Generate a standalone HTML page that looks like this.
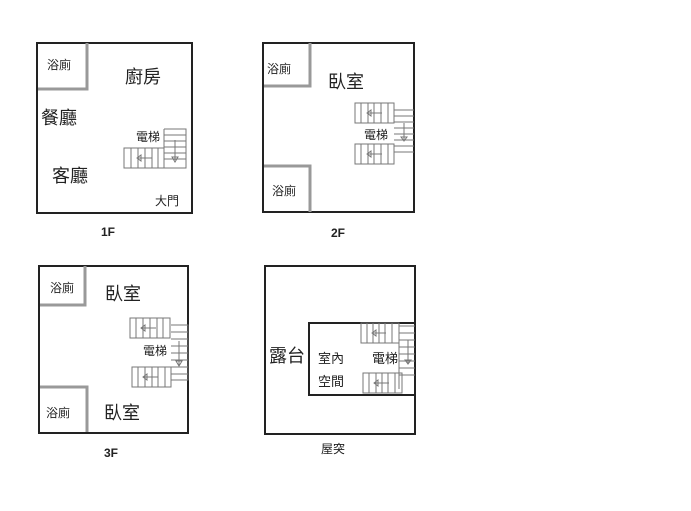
<!DOCTYPE html>
<html><head><meta charset="utf-8"><style>
body{margin:0;background:#fff}
svg{display:block}
text{font-family:"Liberation Sans","Noto Sans CJK TC",sans-serif;fill:#222}
.w{fill:none;stroke:#222;stroke-width:2}
.b{fill:none;stroke:#999;stroke-width:3}
.s{fill:none;stroke:#777;stroke-width:1}
</style></head><body>
<svg width="691" height="511" viewBox="0 0 691 511">
<!-- 1F -->
<rect class="w" x="37" y="43" width="155" height="170"/>
<path class="b" d="M38 89H87V43"/>
<text x="47" y="69" font-size="12">浴廁</text>
<text x="125" y="83" font-size="18">廚房</text>
<text x="41" y="124" font-size="18">餐廳</text>
<text x="136" y="141" font-size="12">電梯</text>
<text x="52" y="182" font-size="18">客廳</text>
<text x="155" y="205" font-size="12">大門</text>
<text x="101" y="236" font-size="12" font-weight="bold">1F</text>
<path class="s" d="M164 129H186V168H164V129M164 135H186M164 141H186M164 147H186M164 153H186M164 159H186M175 140V160M172 157L175 162L178 157Z"/>
<path class="s" d="M124 148H164V168H124ZM131 148V168M138 148V168M145 148V168M152 148V168M158 148V168M137 158H152M137 158L141 155V161Z"/>

<!-- 2F -->
<rect class="w" x="263" y="43" width="151" height="169"/>
<path class="b" d="M264 86H310V43"/>
<path class="b" d="M264 166H310V212"/>
<text x="267" y="73" font-size="12">浴廁</text>
<text x="272" y="195" font-size="12">浴廁</text>
<text x="328" y="88" font-size="18">臥室</text>
<text x="364" y="139" font-size="12">電梯</text>
<text x="331" y="237" font-size="12" font-weight="bold">2F</text>
<path class="s" d="M355 103H394V123H355ZM361 103V123M368 103V123M374 103V123M381 103V123M388 103V123M367 113H382M367 113L371 110V116Z"/>
<path class="s" d="M355 144H394V164H355ZM361 144V164M368 144V164M374 144V164M381 144V164M388 144V164M367 154H382M367 154L371 151V157Z"/>
<path class="s" d="M394 110H414M394 116H414M394 122H414M394 128H414M394 134H414M394 140H414M394 146H414M394 152H414M404 123V140M401 137L404 141L407 137Z"/>

<!-- 3F -->
<rect class="w" x="39" y="266" width="149" height="167"/>
<path class="b" d="M40 305H85V266"/>
<path class="b" d="M40 387H87V432"/>
<text x="50" y="292" font-size="12">浴廁</text>
<text x="46" y="417" font-size="12">浴廁</text>
<text x="105" y="300" font-size="18">臥室</text>
<text x="104" y="419" font-size="18">臥室</text>
<text x="143" y="355" font-size="12">電梯</text>
<text x="104" y="457" font-size="12" font-weight="bold">3F</text>
<path class="s" d="M130 318H170V338H130ZM136 318V338M143 318V338M150 318V338M157 318V338M163 318V338M141 328H156M141 328L145 325V331Z"/>
<path class="s" d="M132 367H171V387H132ZM138 367V387M145 367V387M152 367V387M158 367V387M165 367V387M143 377H158M143 377L147 374V380Z"/>
<path class="s" d="M171 325H188V380H171M171 332H188M171 339H188M171 346H188M171 353H188M171 360H188M171 367H188M171 374H188M179 341V365M176 361L179 366L182 361Z"/>

<!-- Roof -->
<rect class="w" x="265" y="266" width="150" height="168"/>
<path class="w" d="M415 395H309V323H415"/>
<text x="269" y="362" font-size="18">露台</text>
<text x="318" y="363" font-size="13">室內</text>
<text x="318" y="386" font-size="13">空間</text>
<text x="372" y="363" font-size="13">電梯</text>
<text x="321" y="453" font-size="12">屋突</text>
<path class="s" d="M361 323H399V343H361ZM367 323V343M373 323V343M379 323V343M385 323V343M392 323V343M372 333H386M372 333L376 330V336Z"/>
<path class="s" d="M363 373H402V393H363ZM369 373V393M376 373V393M382 373V393M388 373V393M395 373V393M374 383H389M374 383L378 380V386Z"/>
<path class="s" d="M399 326H415M399 333H415M399 340H415M399 347H415M399 354H415M399 361H415M399 368H415M399 375H415M399 326V389M408 340V364M405 360L408 364L411 360Z"/>
</svg>
</body></html>
